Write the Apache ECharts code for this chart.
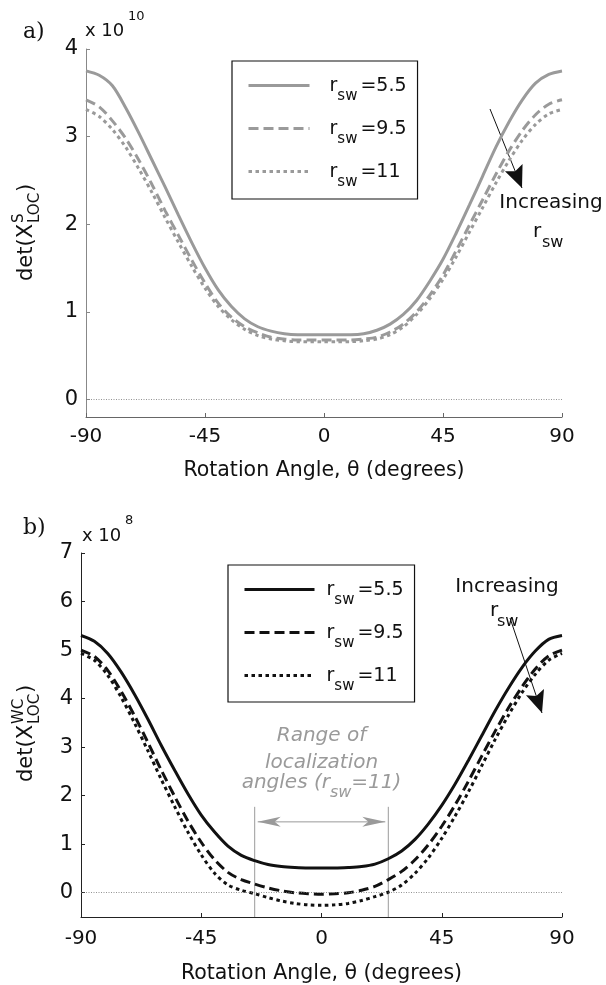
<!DOCTYPE html>
<html><head><meta charset="utf-8">
<script src="https://cdn.jsdelivr.net/npm/echarts@6/dist/echarts.min.js"></script>
<style>html,body{margin:0;padding:0;background:#fff}#c{width:606px;height:985px}</style>
</head><body><div id="c"></div>
<script>
const FONT = "'DejaVu Sans', sans-serif";
// rotation angle (degrees)
const angles = [-90,-85,-80,-75,-70,-65,-60,-55,-50,-45,-40,-35,-30,-25,-20,-15,-10,-5,0,5,10,15,20,25,30,35,40,45,50,55,60,65,70,75,80,85,90];
// panel a) det(X^S_LOC), x 1e10
const sA55 = [3.75,3.70,3.58,3.33,3.04,2.73,2.42,2.10,1.79,1.50,1.25,1.06,0.92,0.83,0.78,0.75,0.74,0.74,0.74,0.74,0.74,0.75,0.79,0.86,0.97,1.13,1.35,1.60,1.90,2.22,2.55,2.88,3.17,3.42,3.61,3.71,3.75];
const sA95 = [3.42,3.34,3.18,2.98,2.73,2.45,2.15,1.87,1.59,1.33,1.10,0.94,0.83,0.76,0.71,0.69,0.68,0.68,0.68,0.68,0.68,0.69,0.71,0.77,0.86,1.00,1.19,1.42,1.70,1.99,2.28,2.57,2.84,3.07,3.25,3.37,3.42];
const sA11 = [3.31,3.23,3.08,2.88,2.63,2.36,2.07,1.79,1.52,1.27,1.06,0.91,0.80,0.73,0.69,0.67,0.66,0.66,0.66,0.66,0.66,0.67,0.69,0.74,0.83,0.97,1.15,1.37,1.63,1.91,2.19,2.47,2.73,2.96,3.14,3.26,3.31];
// panel b) det(X^WC_LOC), x 1e8
const sB55 = [5.30,5.18,4.93,4.55,4.09,3.58,3.04,2.53,2.04,1.60,1.25,0.96,0.77,0.66,0.58,0.54,0.52,0.51,0.51,0.51,0.52,0.54,0.59,0.70,0.86,1.10,1.42,1.80,2.24,2.73,3.24,3.75,4.22,4.64,4.98,5.22,5.30];
const sB95 = [5.00,4.87,4.58,4.15,3.65,3.10,2.53,1.99,1.48,1.04,0.68,0.42,0.27,0.18,0.10,0.04,0.00,-0.02,-0.03,-0.02,0.00,0.05,0.13,0.27,0.44,0.68,0.99,1.37,1.81,2.30,2.82,3.33,3.81,4.24,4.61,4.88,5.00];
const sB11 = [4.93,4.79,4.48,4.03,3.50,2.93,2.34,1.78,1.25,0.78,0.40,0.16,0.05,-0.02,-0.10,-0.17,-0.22,-0.25,-0.26,-0.25,-0.22,-0.16,-0.08,0.01,0.16,0.40,0.72,1.12,1.58,2.08,2.62,3.16,3.66,4.12,4.50,4.79,4.93];
const xTicks = [-90,-45,0,45,90];
const yTicksA = [0,1,2,3,4];
const yTicksB = [0,1,2,3,4,5,6,7];
const rswValues = ['5.5','9.5','11'];
const rangeAngles = [-25,25];   // localization angle range (r_sw = 11)

const pairs = v => angles.map((a,i)=>[a,v[i]]);
const chart = echarts.init(document.getElementById('c'), null, {renderer:'canvas'});

function xAx(g, color, gap, margin){
  return {gridIndex:g, type:'value', min:-90, max:90, interval:45,
    axisLine:{onZero:false, lineStyle:{color:color, width:1}},
    axisTick:{inside:true, length:4, lineStyle:{color:color}},
    axisLabel:{margin:margin, fontSize:20, color:'#111', fontFamily:FONT, customValues:xTicks},
    splitLine:{show:false},
    name:'Rotation Angle, \u03b8 (degrees)', nameLocation:'middle', nameGap:gap,
    nameTextStyle:{fontSize:20.5, color:'#111', fontFamily:FONT}};
}
function yAx(g, min, max, ticks, color){
  return {gridIndex:g, type:'value', min:min, max:max,
    axisLine:{show:true, onZero:false, lineStyle:{color:color, width:1}},
    axisTick:{show:true, inside:true, length:4, customValues:ticks, lineStyle:{color:color}},
    axisLabel:{margin:8, fontSize:21, color:'#111', fontFamily:FONT, customValues:ticks},
    splitLine:{show:false}};
}
const zeroLine = {silent:true, symbol:['none','none'], label:{show:false},
  lineStyle:{color:'#777', type:[1,1.5], width:0.8}, data:[{yAxis:0}]};
function ser(name, g, data, color, type, mark){
  const s = {name, type:'line', xAxisIndex:g, yAxisIndex:g, data:pairs(data), showSymbol:false, symbol:'none',
    smooth:0.3, lineStyle:{color, width:3, type}, itemStyle:{color}};
  if (mark) s.markLine = zeroLine;
  return s;
}
const legFmt = name => { const i = +name.slice(1); return '{r|r}{s|sw}{v|=' + rswValues[i] + '}'; };
function leg(names, left, top, pad, iw, rpad){
  return {data:names, orient:'vertical', left, top, padding:pad, itemGap:7, itemWidth:iw, itemHeight:14,
    borderColor:'#111', borderWidth:1.2, selectedMode:false, formatter:legFmt,
    lineStyle:{width:3},
    itemStyle:{color:'rgba(0,0,0,0)', borderColor:'rgba(0,0,0,0)', borderWidth:0, opacity:0},
    textStyle:{color:'#111', fontFamily:FONT, rich:{
      r:{fontSize:19, lineHeight:22, padding:[8,0,7,rpad], fontFamily:FONT, color:'#111'},
      s:{fontSize:15, lineHeight:16, padding:[21,3,0,0], fontFamily:FONT, color:'#111'},
      v:{fontSize:19, lineHeight:22, padding:[8,0,7,0], fontFamily:FONT, color:'#111'}}}};
}
const GA = '#9a9a9a', GB = '#111';
chart.setOption({
  animation:false,
  grid:[{left:86, right:44, top:49, bottom:568}, {left:81, right:44, top:553, bottom:68}],
  xAxis:[xAx(0,'#666',43,10), xAx(1,'#222',46,12)],
  yAxis:[yAx(0,-0.2,4,yTicksA,'#888'), yAx(1,-0.5,7,yTicksB,'#222')],
  legend:[leg(['a0','a1','a2'],232,61,[6.5,11,9.5,15],61,15), leg(['b0','b1','b2'],228,565,[6.5,11,8.5,15],70,7)],
  series:[
    ser('a0',0,sA55,GA,'solid',true), ser('a1',0,sA95,GA,[10,5]), ser('a2',0,sA11,GA,[3.5,3.5]),
    ser('b0',1,sB55,GB,'solid',true), ser('b1',1,sB95,GB,[10,5]), ser('b2',1,sB11,GB,[3.5,3.5])
  ]
});

// ---- annotations ----
const P = (g,x,y) => chart.convertToPixel({gridIndex:g},[x,y]);
const G = [];
const T = (x,y,text,o) => G.push({type:'text', x, y, style:Object.assign({text, fontSize:20, fontFamily:FONT, fill:'#111', align:'left', verticalAlign:'middle'}, o||{})});
// panel labels & exponents
T(23,32,'a)',{fontFamily:"'DejaVu Serif', serif", fontSize:22});
T(85,31,'x 10',{fontSize:18}); T(128,17,'10',{fontSize:13});
T(23,528,'b)',{fontFamily:"'DejaVu Serif', serif", fontSize:22});
T(82,536,'x 10',{fontSize:18}); T(125,521,'8',{fontSize:13});
// y titles (rotated)
function ytitle(x, yBottom, sup){
  G.push({type:'group', x:x, y:yBottom, rotation:Math.PI/2, children:[
    {type:'text', x:0, y:0, style:{text:'det(X', fontSize:21, fontFamily:FONT, fill:'#111', align:'left', verticalAlign:'middle'}},
    {type:'text', x:58, y:-8, style:{text:sup, fontSize:15, fontFamily:FONT, fill:'#111', align:'left', verticalAlign:'middle'}},
    {type:'text', x:58, y:8, style:{text:'LOC', fontSize:15, fontFamily:FONT, fill:'#111', align:'left', verticalAlign:'middle'}},
    {type:'text', x:89, y:0, style:{text:')', fontSize:21, fontFamily:FONT, fill:'#111', align:'left', verticalAlign:'middle'}}
  ]});
}
ytitle(27,281,'S'); ytitle(27,782,'WC');
// "Increasing r_sw" + arrows
function arrow(x0,y0,x1,y1){
  G.push({type:'line', shape:{x1:x0,y1:y0,x2:x1,y2:y1}, style:{stroke:'#111', lineWidth:1}});
  const dx=x1-x0, dy=y1-y0, L=Math.hypot(dx,dy), ux=dx/L, uy=dy/L;
  const bx=x1-ux*22, by=y1-uy*22, px=-uy*9.5, py=ux*9.5;
  G.push({type:'polygon', shape:{points:[[x1,y1],[bx+px,by+py],[bx+ux*4,by+uy*4],[bx-px,by-py]]}, style:{fill:'#111'}});
}
T(551,203,'Increasing',{align:'center'}); T(533,232,'r'); T(542,243,'sw',{fontSize:16});
arrow(490,109,522,188);
T(507,587,'Increasing',{align:'center'}); T(490,611,'r'); T(497,622,'sw',{fontSize:16});
arrow(510,618,542,713);
// range of localization angles
const gry = '#9a9a9a';
const l0 = P(1,rangeAngles[0],-0.5), l1 = P(1,rangeAngles[0],1.77);
const r0 = P(1,rangeAngles[1],-0.5), r1 = P(1,rangeAngles[1],1.77);
G.push({type:'line', shape:{x1:l0[0],y1:l0[1],x2:l1[0],y2:l1[1]}, style:{stroke:gry, lineWidth:1}});
G.push({type:'line', shape:{x1:r0[0],y1:r0[1],x2:r1[0],y2:r1[1]}, style:{stroke:gry, lineWidth:1}});
const aL = P(1,rangeAngles[0],1.46), aR = P(1,rangeAngles[1],1.46);
const tl = aL[0]+3, tr = aR[0]-3, ay = aL[1];
G.push({type:'line', shape:{x1:tl,y1:ay,x2:tr,y2:ay}, style:{stroke:gry, lineWidth:1}});
G.push({type:'polygon', shape:{points:[[tl,ay],[tl+23,ay-5],[tl+17,ay],[tl+23,ay+5]]}, style:{fill:gry}});
G.push({type:'polygon', shape:{points:[[tr,ay],[tr-23,ay-5],[tr-17,ay],[tr-23,ay+5]]}, style:{fill:gry}});
const cx = P(1,0,0)[0];
T(cx,736,'Range of',{align:'center', fill:gry, fontStyle:'italic'});
T(cx,763,'localization',{align:'center', fill:gry, fontStyle:'italic'});
G.push({type:'text', x:cx, y:777, style:{text:'{a|angles (r}{b|sw}{a|=11)}', align:'center', verticalAlign:'top',
  rich:{a:{fontSize:20, lineHeight:22, padding:[0,0,10,0], fontFamily:FONT, fontStyle:'italic', fill:gry, color:gry},
        b:{fontSize:16, lineHeight:22, padding:[10,0,0,0], fontFamily:FONT, fontStyle:'italic', fill:gry, color:gry}}}});
chart.setOption({graphic:G});
</script></body></html>
